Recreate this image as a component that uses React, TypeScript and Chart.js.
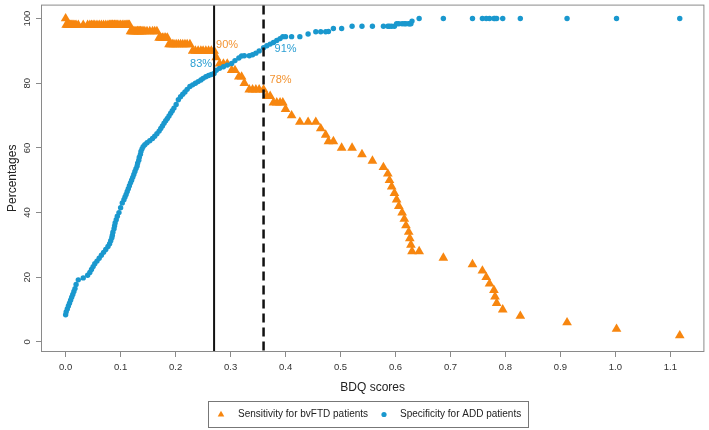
import React, { useEffect, useRef } from "react";
import { Chart, registerables } from "chart.js";

Chart.register(...registerables);

// BDQ score thresholds with sensitivity for bvFTD and specificity for ADD (%)
const scores = [
  0.000, 0.001, 0.003, 0.005, 0.007, 0.009, 0.011, 0.013, 0.015, 0.017, 0.019, 0.023, 0.032,
  0.040, 0.044, 0.047, 0.050, 0.053, 0.057, 0.061, 0.065, 0.069, 0.073,
  0.077, 0.080, 0.082, 0.084, 0.085, 0.086, 0.088, 0.089, 0.090, 0.092,
  0.094, 0.097, 0.100, 0.103, 0.106, 0.108, 0.110, 0.112, 0.114, 0.116,
  0.118, 0.120, 0.122, 0.124, 0.126, 0.128, 0.130, 0.131, 0.133, 0.134,
  0.136, 0.137, 0.139, 0.141, 0.144, 0.148, 0.153, 0.158, 0.162, 0.166,
  0.170, 0.173, 0.176, 0.179, 0.182, 0.185,
  0.188, 0.191, 0.194, 0.197, 0.201, 0.205, 0.209, 0.213, 0.217, 0.221, 0.226,
  0.231, 0.236, 0.241, 0.246, 0.250, 0.255, 0.260, 0.265, 0.270,
  0.274, 0.280, 0.287, 0.294, 0.302, 0.308, 0.315, 0.320, 0.325, 0.334, 0.340, 0.346, 0.352, 0.360,
  0.366, 0.372, 0.378, 0.384, 0.390, 0.395, 0.400, 0.411, 0.426, 0.441,
  0.455, 0.464, 0.473, 0.478, 0.487, 0.502, 0.521, 0.539, 0.558, 0.578,
  0.586, 0.589, 0.593, 0.598, 0.602, 0.606, 0.612, 0.616, 0.619, 0.624,
  0.626, 0.628, 0.630, 0.643,
  0.687, 0.740, 0.758, 0.765, 0.771, 0.779, 0.781, 0.784, 0.795, 0.827, 0.912, 1.002, 1.117,
];

const sensitivity = [
  100, 98, 98, 98, 98, 98, 98, 98, 98, 98, 98, 98, 98,
  98, 98, 98, 98, 98, 98, 98, 98, 98, 98,
  98, 98, 98, 98, 98, 98, 98, 98, 98, 98,
  98, 98, 98, 98, 98, 98, 98, 98, 98, 98,
  96, 96, 96, 96, 96, 96, 96, 96, 96, 96,
  96, 96, 96, 96, 96, 96, 96, 96, 96, 96,
  94, 94, 94, 94, 94, 94,
  92, 92, 92, 92, 92, 92, 92, 92, 92, 92, 92,
  90, 90, 90, 90, 90, 90, 90, 90, 90,
  88, 86, 86, 86, 84, 84, 82, 82, 80, 78, 78, 78, 78, 78,
  76, 76, 74, 74, 74, 74, 72, 70, 68, 68,
  68, 66, 64, 62, 62, 60, 60, 58, 56, 54,
  52, 50, 48, 46, 44, 42, 40, 38, 36, 34,
  32, 30, 28, 28,
  26, 24, 22, 20, 18, 16, 14, 12, 10, 8, 6, 4, 2,
];

const specificity = [
  8.4, 9.3, 10.2, 11.1, 12.0, 12.9, 13.8, 14.7, 15.6, 16.5, 17.8, 19.2, 19.8,
  20.6, 21.5, 22.4, 23.3, 24.2, 25.0, 25.9, 26.8, 27.7, 28.6,
  29.5, 30.4, 31.3, 32.2, 33.0, 33.9, 35.0, 35.9, 36.8, 37.8,
  38.9, 40.0, 41.5, 43.0, 44.0, 44.8, 45.6, 46.5, 47.4, 48.3,
  49.2, 50.0, 50.9, 51.8, 52.7, 53.6, 54.4, 55.3, 56.2, 57.1,
  58.0, 58.9, 59.7, 60.4, 61.0, 61.6, 62.2, 62.9, 63.6, 64.4,
  65.2, 66.0, 66.8, 67.6, 68.4, 69.1,
  69.9, 70.7, 71.5, 72.3, 73.4, 74.9, 75.8, 76.6, 77.3, 78.1, 79.0,
  79.5, 80.0, 80.5, 81.0, 81.5, 82.0, 82.4, 82.7, 83.0,
  84.0, 84.6, 85.1, 85.6, 86.1, 87.0, 87.8, 88.4, 88.5, 88.5, 88.8, 89.3, 90.0, 91.0,
  91.6, 92.1, 92.6, 93.2, 93.8, 94.4, 94.4, 94.4, 94.4, 95.2,
  95.9, 95.9, 95.9, 96.0, 96.9, 96.9, 97.6, 97.6, 97.6, 97.6,
  97.6, 97.6, 97.6, 97.6, 98.4, 98.4, 98.4, 98.4, 98.4, 98.4,
  98.4, 98.4, 99.2, 100,
  100, 100, 100, 100, 100, 100, 100, 100, 100, 100, 100, 100, 100,
];

const xTickValues = [0, 0.1, 0.2, 0.3, 0.4, 0.5, 0.6, 0.7, 0.8, 0.9, 1.0, 1.1];
const yTickValues = [0, 20, 40, 60, 80, 100];

// Cut-off scores (solid, dashed) and the values reported at each
const cutoffScores = [0.27, 0.36];
const cutoffSensitivity = [90, 78];
const cutoffSpecificity = [83, 91];

const seriesNames = ["Sensitivity for bvFTD patients", "Specificity for ADD patients"];

const ORANGE = "#F7860F";
const BLUE = "#1A98CE";
const ORANGE_TEXT = "#F39433";
const BLUE_TEXT = "#2B9FD3";
const FRAME = "#8a8a8a";
const FONT = '"Liberation Sans", Arial, sans-serif';

const overlay = {
  id: "overlay",
  afterDatasetsDraw(chart: any) {
    const { ctx, chartArea: a, scales } = chart;
    const xs = scales.x;
    const ys = scales.y;
    ctx.save();

    // plot frame
    ctx.strokeStyle = FRAME;
    ctx.lineWidth = 1;
    ctx.strokeRect(a.left - 0.5, a.top - 0.5, a.right - a.left + 1, a.bottom - a.top + 1);

    // cut-off lines
    cutoffScores.forEach((c, i) => {
      const px = xs.getPixelForValue(c);
      ctx.beginPath();
      ctx.strokeStyle = "#111";
      ctx.lineWidth = i === 0 ? 2 : 2.5;
      ctx.setLineDash(i === 0 ? [] : [9, 5]);
      ctx.moveTo(px, a.top);
      ctx.lineTo(px, a.bottom);
      ctx.stroke();
    });
    ctx.setLineDash([]);

    // values at the cut-offs
    ctx.font = `11px ${FONT}`;
    ctx.textBaseline = "middle";
    const p0 = xs.getPixelForValue(cutoffScores[0]);
    const p1 = xs.getPixelForValue(cutoffScores[1]);
    ctx.textAlign = "left";
    ctx.fillStyle = ORANGE_TEXT;
    ctx.fillText(`${cutoffSensitivity[0]}%`, p0 + 2, ys.getPixelForValue(cutoffSensitivity[0]) - 6);
    ctx.fillText(`${cutoffSensitivity[1]}%`, p1 + 6, ys.getPixelForValue(cutoffSensitivity[1]) - 9.7);
    ctx.fillStyle = BLUE_TEXT;
    ctx.fillText(`${cutoffSpecificity[1]}%`, p1 + 11, ys.getPixelForValue(cutoffSpecificity[1]) + 1.8);
    ctx.textAlign = "right";
    ctx.fillText(`${cutoffSpecificity[0]}%`, p0 - 2, ys.getPixelForValue(cutoffSpecificity[0]) - 9.3);

    // rotated y tick labels
    ctx.font = `9.5px ${FONT}`;
    ctx.fillStyle = "#333";
    ctx.textAlign = "center";
    ctx.textBaseline = "middle";
    yTickValues.forEach((v) => {
      const py = ys.getPixelForValue(v);
      ctx.save();
      ctx.translate(27, py);
      ctx.rotate(-Math.PI / 2);
      ctx.fillText(String(v), 0, 0);
      ctx.restore();
    });

    // legend
    const lx = 208.5, ly = 401.5, lw = 320, lh = 26;
    const cy = ly + lh / 2;
    ctx.strokeStyle = "#777";
    ctx.lineWidth = 1;
    ctx.strokeRect(lx, ly, lw, lh);
    ctx.fillStyle = ORANGE;
    ctx.beginPath();
    const r = 3.8;
    ctx.moveTo(221, cy - r);
    ctx.lineTo(221 + r * 0.866, cy + r / 2);
    ctx.lineTo(221 - r * 0.866, cy + r / 2);
    ctx.closePath();
    ctx.fill();
    ctx.fillStyle = BLUE;
    ctx.beginPath();
    ctx.arc(384, cy, 2.6, 0, Math.PI * 2);
    ctx.fill();
    ctx.font = `10px ${FONT}`;
    ctx.fillStyle = "#222";
    ctx.textAlign = "left";
    ctx.fillText(seriesNames[0], 238, cy);
    ctx.fillText(seriesNames[1], 400, cy);

    ctx.restore();
  },
};

export default function App() {
  const canvasRef = useRef<HTMLCanvasElement | null>(null);

  useEffect(() => {
    if (!canvasRef.current) return;
    const sensPoints = scores.map((s, i) => ({ x: s, y: sensitivity[i] }));
    const specPoints = scores.map((s, i) => ({ x: s, y: specificity[i] }));

    const chart = new Chart(canvasRef.current, {
      type: "scatter",
      data: {
        datasets: [
          {
            label: seriesNames[1],
            data: specPoints,
            pointStyle: "circle",
            pointRadius: 2.7,
            pointBackgroundColor: BLUE,
            pointBorderWidth: 0,
            order: 0,
          },
          {
            label: seriesNames[0],
            data: sensPoints,
            pointStyle: "triangle",
            pointRadius: 5.6,
            pointBackgroundColor: ORANGE,
            pointBorderWidth: 0,
            order: 1,
          },
        ],
      },
      options: {
        animation: false,
        responsive: false,
        devicePixelRatio: 1,
        events: [],
        layout: { padding: { left: 0, right: 3, top: 2, bottom: 0 } },
        plugins: {
          legend: { display: false },
          tooltip: { enabled: false },
        },
        scales: {
          x: {
            type: "linear",
            min: -0.043,
            max: 1.16,
            afterBuildTicks: (s: any) => {
              s.ticks = xTickValues.map((v) => ({ value: v }));
            },
            afterFit: (s: any) => {
              s.height = 79;
            },
            grid: { display: true, drawOnChartArea: false, drawTicks: true, tickLength: 6, color: FRAME },
            border: { display: false },
            ticks: {
              color: "#333",
              font: { family: FONT, size: 9.5 },
              padding: 5,
              maxRotation: 0,
              callback: (v: any) => Number(v).toFixed(1),
            },
            title: {
              display: true,
              text: "BDQ scores",
              color: "#222",
              font: { family: FONT, size: 12 },
              padding: { top: 0, bottom: 34.8 },
            },
          },
          y: {
            type: "linear",
            min: -2.8,
            max: 104,
            afterBuildTicks: (s: any) => {
              s.ticks = yTickValues.map((v) => ({ value: v }));
            },
            afterFit: (s: any) => {
              s.width = 42;
            },
            grid: { display: true, drawOnChartArea: false, drawTicks: true, tickLength: 6, color: FRAME },
            border: { display: false },
            ticks: { display: false },
            title: {
              display: true,
              text: "Percentages",
              color: "#222",
              font: { family: FONT, size: 12 },
              padding: { top: 5.8, bottom: 0 },
            },
          },
        },
      },
      plugins: [overlay],
    });
    return () => chart.destroy();
  }, []);

  return (
    <div style={{ position: "fixed", left: 0, top: 0, width: 709, height: 430, background: "#fff" }}>
      <canvas ref={canvasRef} width={709} height={430} />
    </div>
  );
}
